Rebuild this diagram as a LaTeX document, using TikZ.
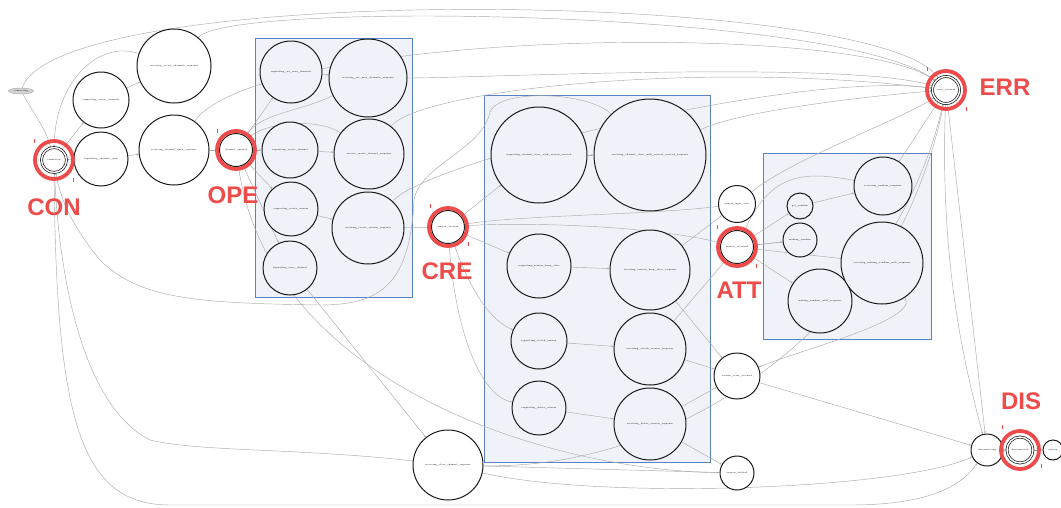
\documentclass[tikz,border=0pt]{standalone}
\usepackage{fontspec}
\setsansfont{Liberation Sans}
\usetikzlibrary{arrows.meta,shapes.geometric}
\definecolor{hl}{HTML}{EE4B4B}
\definecolor{clfill}{HTML}{EFF2F8}
\definecolor{clborder}{HTML}{5A82C2}
\pgfdeclarelayer{clusters}
\pgfdeclarelayer{edges}
\pgfsetlayers{clusters,edges,main}
\tikzset{
  st/.style={circle,draw=black!90,line width=1pt,inner sep=0pt,fill=white,
             font=\fontsize{2.2}{2.6}\selectfont,minimum size=#1},
  cst/.style={st=#1,fill=clfill},
  dst/.style={st=#1,double,double distance=1.4pt,line width=0.7pt},
  ring/.style={draw=hl,line width=3.8pt},
  tick/.style={draw=hl,line width=0.7pt},
  lab/.style={text=hl,font=\sffamily\bfseries\fontsize{24}{24}\selectfont,inner sep=0pt},
  clus/.style={draw=clborder,fill=clfill,line width=0.8pt},
  e/.style={draw=gray!65,line width=0.45pt,-{Stealth[length=2.4pt,width=1.8pt]}}
}
\begin{document}
\begin{tikzpicture}[x=1pt,y=-1pt]
\useasboundingbox (0,0) rectangle (1061,507);
% ---------- nodes
\node[ellipse,draw=gray!70,fill=gray!35,minimum width=25pt,minimum height=6pt,inner sep=0pt,
      font=\fontsize{2.2}{2.6}\selectfont] (connecting) at (21,91) {connecting};
\node[dst=25pt] (connected) at (54,160) {connected};
\node[st=56pt] (rac) at (101,100) {requesting\_active\_channels};
\node[st=74pt] (racr) at (174,66) {receiving\_active\_channels\_response};
\node[st=54pt] (rco) at (101,159) {requesting\_channel\_open};
\node[st=70pt] (rcor) at (174,150) {receiving\_channel\_open\_response};
\node[st=33pt] (co) at (236,150) {channel\_opened};
% cluster 1
\node[cst=62pt] (rsmc) at (291,72) {requesting\_set\_max\_channels};
\node[cst=78pt] (rsmcr) at (368,78) {receiving\_set\_max\_channels\_response};
\node[cst=56pt] (rcc) at (290,150) {requesting\_create\_channel};
\node[cst=70pt] (rccresp) at (369,154) {receive\_create\_channel\_response};
\node[cst=54pt] (rcs) at (291,209) {requesting\_create\_session};
\node[cst=72pt] (rcsr) at (368,228) {receiving\_create\_session\_response};
\node[cst=54pt] (rclc) at (290,268) {requesting\_close\_channel};
\node[st=33pt] (sc) at (448,227) {session\_created};
% cluster 2
\node[cst=96pt] (rccws) at (539,155) {requesting\_channel\_close\_with\_session\_created};
\node[cst=112pt] (rccwsr) at (650,155) {receiving\_channel\_close\_with\_session\_created\_response};
\node[cst=64pt] (rska) at (539,266) {requesting\_session\_keep\_alive};
\node[cst=80pt] (rskar) at (650,270) {receiving\_session\_keep\_alive\_response};
\node[cst=56pt] (ras) at (539,341) {requesting\_attach\_session};
\node[cst=72pt] (rasr) at (650,349) {receiving\_attach\_session\_response};
\node[cst=54pt] (rds) at (539,408) {requesting\_delete\_session};
\node[cst=72pt] (rdsr) at (650,424) {receiving\_delete\_session\_response};
\node[st=37pt] (ska) at (737,204) {session\_kept\_alive};
\node[st=33pt] (sa) at (737,247) {session\_attached};
\node[st=46pt] (seo) at (737,376) {session\_error\_occured};
\node[st=34pt] (sd) at (737,473) {session\_deleted};
\node[st=70pt] (rclcr) at (448,465) {receiving\_close\_channel\_response};
% cluster 3
\node[cst=26pt] (gr) at (800,206) {get\_random};
\node[cst=34pt] (mr) at (800,240) {making\_random};
\node[cst=58pt] (rrr) at (883,186) {receiving\_random\_response};
\node[cst=64pt] (mrwr) at (820,301) {making\_random\_with\_response};
\node[cst=82pt] (rmrwr) at (882,263) {receiving\_making\_random\_with\_response};
% right
\node[dst=27pt] (err) at (946,90) {error\_occured};
\node[st=32pt] (dcing) at (987,450) {disconnecting};
\node[dst=26pt] (dced) at (1020,450) {disconnected};
\node[st=20pt] (exiting) at (1053,450) {exiting};
% ---------- clusters
\begin{pgfonlayer}{clusters}
\fill[white] (0,0) rectangle (1061,507);
\draw[clus] (255,38) rectangle (412,297);
\draw[clus] (484,95) rectangle (710,462);
\draw[clus] (763,153) rectangle (931,339);
\end{pgfonlayer}
% ---------- edges
\begin{pgfonlayer}{edges}
\draw[e] (connecting) .. controls (35,115) and (46,130) .. (connected);
\draw[e] (connecting) .. controls (60,-20) and (880,-10) .. (err);
\draw[e] (connected) -- (rac);
\draw[e] (connected) -- (rco);
\draw[e] (racr) .. controls (100,40) and (55,80) .. (connected);
\draw[e] (rac) -- (racr);
\draw[e] (rco) -- (rcor);
\draw[e] (rcor) -- (co);
\draw[e] (racr) .. controls (230,0) and (850,10) .. (err);
\draw[e] (rcor) .. controls (260,30) and (860,20) .. (err);
\draw[e] (rclcr) .. controls (300,448) and (200,452) .. (150,440)
                 .. controls (90,410) and (60,300) .. (connected);
\draw[e] (connected) .. controls (56,420) and (80,505) .. (170,505)
                 -- (850,505) .. controls (940,505) and (965,480) .. (dcing);
\draw[e] (rccwsr) .. controls (590,92) and (500,88) .. (490,112)
                 .. controls (482,150) and (420,165) .. (414,200)
                 .. controls (410,285) and (380,305) .. (320,305)
                 .. controls (200,303) and (140,300) .. (100,260)
                 .. controls (75,230) and (60,200) .. (connected);
\draw[e] (co) -- (rsmc);
\draw[e] (co) -- (rcc);
\draw[e] (co) -- (rcs);
\draw[e] (co) -- (rclc);
\draw[e] (rsmc) -- (rsmcr);
\draw[e] (rcc) -- (rccresp);
\draw[e] (rcs) -- (rcsr);
\draw[e] (rclc) -- (rclcr);
\draw[e] (rsmcr) .. controls (300,112) and (262,112) .. (co);
\draw[e] (rccresp) .. controls (320,118) and (265,122) .. (co);
\draw[e] (rsmcr) .. controls (480,78) and (850,60) .. (err);
\draw[e] (rccresp) .. controls (420,90) and (700,60) .. (err);
\draw[e] (rcsr) .. controls (430,160) and (800,70) .. (err);
\draw[e] (rcsr) -- (sc);
\draw[e] (sc) -- (rccws);
\draw[e] (sc) -- (rska);
\draw[e] (sc) .. controls (470,290) and (490,320) .. (ras);
\draw[e] (sc) .. controls (455,330) and (480,395) .. (rds);
\draw[e] (rccws) -- (rccwsr);
\draw[e] (rska) -- (rskar);
\draw[e] (ras) -- (rasr);
\draw[e] (rds) -- (rdsr);
\draw[e] (rccwsr) .. controls (740,110) and (880,95) .. (err);
\draw[e] (rskar) -- (ska);
\draw[e] (rskar) -- (seo);
\draw[e] (rasr) -- (sa);
\draw[e] (rasr) -- (seo);
\draw[e] (rdsr) -- (seo);
\draw[e] (rdsr) -- (sd);
\draw[e] (ska) .. controls (650,215) and (520,215) .. (sc);
\draw[e] (sa) .. controls (650,225) and (520,222) .. (sc);
\draw[e] (ska) .. controls (790,160) and (900,120) .. (err);
\draw[e] (sd) .. controls (540,470) and (270,380) .. (co);
\draw[e] (sa) -- (gr);
\draw[e] (sa) -- (mr);
\draw[e] (mr) -- (sa);
\draw[e] (sa) -- (mrwr);
\draw[e] (gr) -- (rrr);
\draw[e] (rrr) .. controls (800,170) and (770,175) .. (sa);
\draw[e] (mrwr) -- (rmrwr);
\draw[e] (rmrwr) -- (sa);
\draw[e] (rrr) -- (err);
\draw[e] (rmrwr) .. controls (915,200) and (935,150) .. (err);
\draw[e] (rmrwr) .. controls (920,320) and (800,350) .. (seo);
\draw[e] (rclcr) .. controls (700,470) and (900,300) .. (err);
\draw[e] (rclcr) .. controls (600,500) and (900,490) .. (dcing);
\draw[e] (rclcr) -- (sd);
\draw[e] (seo) -- (dcing);
\draw[e] (err) -- (dcing);
\draw[e] (err) .. controls (940,250) and (960,350) .. (dcing);
\draw[e] (dcing) -- (dced);
\draw[e] (dced) -- (exiting);
\end{pgfonlayer}
% ---------- highlights
\draw[ring] (connected.center) circle (19);
\draw[ring] (co.center) circle (19);
\draw[ring] (sc.center) circle (19);
\draw[ring] (sa.center) circle (19);
\draw[ring] (err.center) circle (19);
\draw[ring] (dced.center) circle (19);
\foreach \x/\y in {34/141,73/180,217/131,430/206,468/244,717/227,756/266,927/69,966/109,1002/427,1041/466}
  \draw[tick] (\x,\y-2) -- (\x,\y+2);
\node[lab] (lcon) at (54,207) {CON};
\node[lab] (lope) at (233,195) {OPE};
\node[lab] (lcre) at (447,271) {CRE};
\node[lab] (latt) at (739,290) {ATT};
\node[lab] (lerr) at (1005,87) {ERR};
\node[lab] (ldis) at (1021,401) {DIS};
\end{tikzpicture}
\end{document}
